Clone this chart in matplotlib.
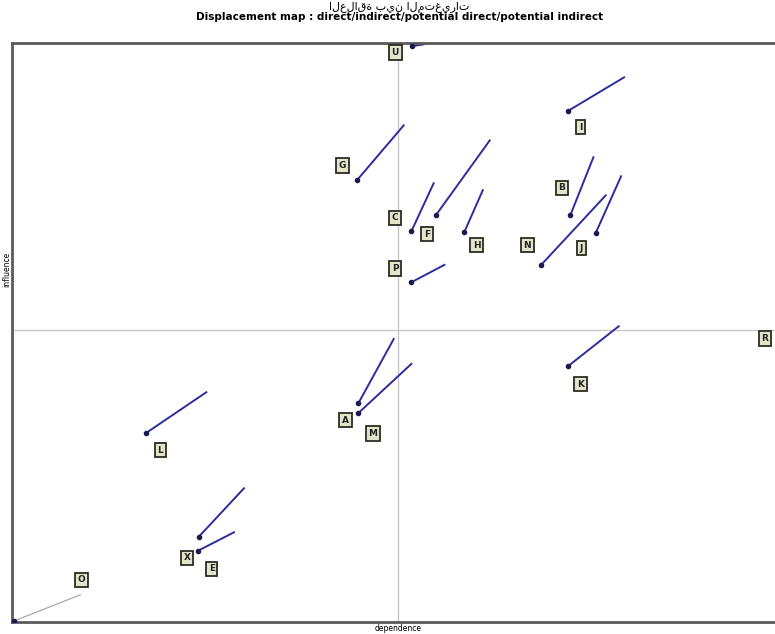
import matplotlib
matplotlib.use("Agg")
import matplotlib.pyplot as plt

# displacement map: each variable moves from "old" (direct) to "new" (potential indirect) position
labels = ["U", "G", "I", "B", "N", "J", "C", "F", "H", "P", "K", "A", "M", "L", "X", "E", "O"]
new_x = [0.521, 0.449, 0.724, 0.727, 0.689, 0.760, 0.520, 0.552, 0.589, 0.520,
         0.724, 0.451, 0.451, 0.174, 0.243, 0.242, 0.003]
new_y = [0.995, 0.763, 0.883, 0.703, 0.617, 0.672, 0.675, 0.703, 0.674, 0.587,
         0.442, 0.378, 0.361, 0.326, 0.147, 0.123, 0.002]
old_x = [0.536, 0.510, 0.797, 0.757, 0.773, 0.793, 0.549, 0.622, 0.613, 0.563,
         0.790, 0.497, 0.520, 0.253, 0.302, 0.289, 0.089]
old_y = [0.998, 0.858, 0.941, 0.803, 0.737, 0.770, 0.758, 0.832, 0.746, 0.617,
         0.511, 0.489, 0.446, 0.397, 0.231, 0.155, 0.047]
lab_x = [0.499, 0.430, 0.740, 0.716, 0.671, 0.741, 0.499, 0.540, 0.605, 0.499,
         0.740, 0.434, 0.470, 0.193, 0.228, 0.260, 0.090]
lab_y = [0.984, 0.789, 0.855, 0.750, 0.651, 0.646, 0.698, 0.670, 0.651, 0.611,
         0.411, 0.349, 0.326, 0.297, 0.111, 0.092, 0.073]

# variable without displacement
still_label = "R"
still_x, still_y = 0.980, 0.490

cross_x, cross_y = 0.503, 0.504

fig = plt.figure(figsize=(7.75, 6.34), dpi=100)
ax = fig.add_axes([0.0155, 0.0189, 0.991, 0.913])
ax.set_xlim(0, 1)
ax.set_ylim(0, 1)
ax.set_xticks([]); ax.set_yticks([])
for s in ax.spines.values():
    s.set_color("#5a5a5a"); s.set_linewidth(2)

ax.axvline(cross_x, color="#c8c8c8", lw=1, zorder=1)
ax.axhline(cross_y, color="#c8c8c8", lw=1, zorder=1)

box = dict(boxstyle="square,pad=0.3", fc="#e4e4cc", ec="#2b2b20", lw=1.3)
for i, lab in enumerate(labels):
    c = "#a0a0a0" if lab == "O" else "#2c2c9c"
    lw = 0.8 if lab == "O" else 1.4
    ax.plot([new_x[i], old_x[i]], [new_y[i], old_y[i]], color=c, lw=lw, zorder=2)
    ax.plot(new_x[i], new_y[i], "o", color="#1a1a50", ms=3, zorder=3)
    ax.text(lab_x[i], lab_y[i], lab, fontsize=6.5, fontweight="bold", ha="center", va="center",
            color="#222", bbox=box, zorder=4)
ax.text(still_x, still_y, still_label, fontsize=6.5, fontweight="bold", ha="center", va="center",
        color="#222", bbox=box, zorder=4)

fig.text(0.515, 0.988, "العلاقة بين المتغيرات", fontsize=8, ha="center", va="center",
         family="DejaVu Sans")
fig.text(0.515, 0.973, "Displacement map : direct/indirect/potential direct/potential indirect",
         fontsize=7.5, fontweight="bold", ha="center", va="center",
         family=["Liberation Sans Narrow", "DejaVu Sans"])
fig.text(0.514, 0.008, "dependence", fontsize=5.5, ha="center", va="center")
fig.text(0.009, 0.575, "influence", fontsize=5.5, ha="center", va="center", rotation=90)

fig.savefig("out.png", dpi=100)
